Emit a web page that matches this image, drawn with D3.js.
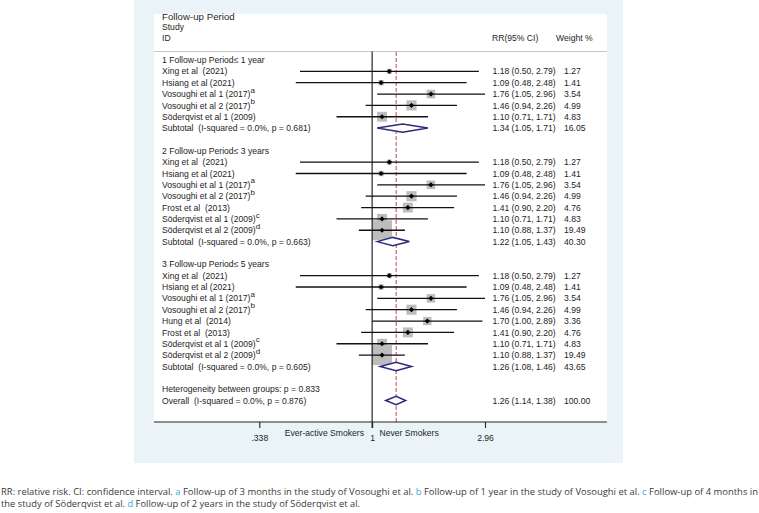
<!DOCTYPE html>
<html><head><meta charset="utf-8">
<script src="https://cdn.jsdelivr.net/npm/d3@7"></script>
<style>
body{margin:0;background:#fff}
svg{display:block}
text{white-space:pre}
</style>
</head><body>
<svg id="chart" width="759" height="513"></svg>
<script>
// ---------- data ----------
const groupTitles = ["1 Follow-up Period\u2264 1 year", "2 Follow-up Period\u2264 3 years", "3 Follow-up Period\u2264 5 years"];
const studyGroup = [0,0,0,0,0, 1,1,1,1,1,1,1, 2,2,2,2,2,2,2,2];
const studyName = [
  "Xing et al  (2021)", "Hsiang et al (2021)", "Vosoughi et al 1 (2017)", "Vosoughi et al 2 (2017)", "S\u00f6derqvist et al 1 (2009)",
  "Xing et al  (2021)", "Hsiang et al (2021)", "Vosoughi et al 1 (2017)", "Vosoughi et al 2 (2017)", "Frost et al  (2013)", "S\u00f6derqvist et al 1 (2009)", "S\u00f6derqvist et al 2 (2009)",
  "Xing et al  (2021)", "Hsiang et al (2021)", "Vosoughi et al 1 (2017)", "Vosoughi et al 2 (2017)", "Hung et al  (2014)", "Frost et al  (2013)", "S\u00f6derqvist et al 1 (2009)", "S\u00f6derqvist et al 2 (2009)"
];
const studySup = ["","","a","b","", "","","a","b","","c","d", "","","a","b","","","c","d"];
const studyRR    = [1.18,1.09,1.76,1.46,1.10, 1.18,1.09,1.76,1.46,1.41,1.10,1.10, 1.18,1.09,1.76,1.46,1.70,1.41,1.10,1.10];
const studyLo    = [0.50,0.48,1.05,0.94,0.71, 0.50,0.48,1.05,0.94,0.90,0.71,0.88, 0.50,0.48,1.05,0.94,1.00,0.90,0.71,0.88];
const studyHi    = [2.79,2.48,2.96,2.26,1.71, 2.79,2.48,2.96,2.26,2.20,1.71,1.37, 2.79,2.48,2.96,2.26,2.89,2.20,1.71,1.37];
const studyWeight= [1.27,1.41,3.54,4.99,4.83, 1.27,1.41,3.54,4.99,4.76,4.83,19.49, 1.27,1.41,3.54,4.99,3.36,4.76,4.83,19.49];
const subtotalP  = ["0.681","0.663","0.605"];
const subRR      = [1.34,1.22,1.26];
const subLo      = [1.05,1.05,1.08];
const subHi      = [1.71,1.43,1.46];
const subWeight  = ["16.05","40.30","43.65"];
const heterogeneityP = "0.833";
const overallP = "0.876";
const overallRR = 1.26, overallLo = 1.14, overallHi = 1.38, overallWeight = "100.00";
const tickValues = [0.338, 1, 2.96];
const tickLabels = [".338", "1", "2.96"];
const leftLabel = "Ever-active Smokers", rightLabel = "Never Smokers";

// ---------- layout ----------
const svg = d3.select("#chart");
const FONT = "'Liberation Sans', Arial, sans-serif";
const fs = 8.6;
const ink = "#1e1e1e";
const rowY = i => 60 + i * 11.35;
const x = d3.scaleLog().domain([0.338, 2.96]).range([259.3, 485]);
const fmt = d3.format(".2f");

svg.append("rect").attr("x",134).attr("y",0).attr("width",489).attr("height",463).attr("fill","#eaf4f8");
svg.append("rect").attr("x",154).attr("y",14).attr("width",453).attr("height",408).attr("fill","#ffffff");

// header
const txt = (xx, yy, s, opt={}) => svg.append("text").attr("x",xx).attr("y",yy)
  .attr("font-family",FONT).attr("font-size",opt.size||fs).attr("fill",ink)
  .attr("text-anchor",opt.anchor||"start").text(s);
txt(162, 20.4, "Follow-up Period", {size:9.7});
txt(162, 29.6, "Study");
txt(162, 40.8, "ID");
txt(492, 40.8, "RR(95% CI)");
txt(556, 40.8, "Weight %");
svg.append("line").attr("x1",154).attr("x2",607).attr("y1",51.5).attr("y2",51.5).attr("stroke","#c4c4c4").attr("stroke-width",1);

// build rows
const rows = [];
let r = 0;
groupTitles.forEach((g, gi) => {
  rows.push({type:"group", label:g, i:r++});
  studyName.forEach((n, si) => {
    if (studyGroup[si] === gi) rows.push({type:"study", label:n, sup:studySup[si], rr:studyRR[si], lo:studyLo[si], hi:studyHi[si], w:studyWeight[si], i:r++});
  });
  rows.push({type:"sub", label:"Subtotal  (I-squared = 0.0%, p = " + subtotalP[gi] + ")", rr:subRR[gi], lo:subLo[gi], hi:subHi[gi], w:subWeight[gi], i:r++});
  r++;
});
rows.push({type:"het", label:"Heterogeneity between groups: p = " + heterogeneityP, i:r++});
rows.push({type:"overall", label:"Overall  (I-squared = 0.0%, p = " + overallP + ")", rr:overallRR, lo:overallLo, hi:overallHi, w:overallWeight, i:r++});

// boxes first (behind lines)
const boxK = 4.53;
const studies = rows.filter(d => d.type === "study");
svg.append("g").selectAll("rect").data(studies).join("rect")
  .attr("x", d => x(d.rr) - boxK*Math.sqrt(d.w)/2)
  .attr("y", d => rowY(d.i) - boxK*Math.sqrt(d.w)/2)
  .attr("width", d => boxK*Math.sqrt(d.w))
  .attr("height", d => boxK*Math.sqrt(d.w))
  .attr("fill", "#bdbdbd");

// null line
svg.append("line").attr("x1",x(1)).attr("x2",x(1)).attr("y1",51.5).attr("y2",428).attr("stroke","#111").attr("stroke-width",1.1);
// overall dashed line
svg.append("line").attr("x1",x(overallRR)).attr("x2",x(overallRR)).attr("y1",52).attr("y2",422)
  .attr("stroke","#c8405a").attr("stroke-width",1).attr("stroke-dasharray","4,2");

// CI lines
svg.append("g").selectAll("line").data(studies).join("line")
  .attr("x1", d => x(d.lo)).attr("x2", d => x(d.hi))
  .attr("y1", d => rowY(d.i)).attr("y2", d => rowY(d.i))
  .attr("stroke", "#111").attr("stroke-width", 1.3);
// point markers
svg.append("g").selectAll("path").data(studies).join("path")
  .attr("transform", d => `translate(${x(d.rr)},${rowY(d.i)})`)
  .attr("d", "M0,-2.6L2.6,0L0,2.6L-2.6,0Z").attr("fill", "#000");

// diamonds
const dia = rows.filter(d => d.type === "sub" || d.type === "overall");
svg.append("g").selectAll("path").data(dia).join("path")
  .attr("d", d => { const y = rowY(d.i), h = 4.2;
    return `M${x(d.lo)},${y}L${x(d.rr)},${y-h}L${x(d.hi)},${y}L${x(d.rr)},${y+h}Z`; })
  .attr("fill", "#fff").attr("stroke", "#2b2b80").attr("stroke-width", 1.5);

// labels
rows.forEach(d => {
  const y = rowY(d.i) + 3.1;
  const t = txt(162, y, d.label);
  if (d.sup) t.append("tspan").attr("dy", -4.5).attr("font-size", 8).text(d.sup);
  if (d.rr !== undefined) {
    txt(492.5, y, `${fmt(d.rr)} (${fmt(d.lo)}, ${fmt(d.hi)})`);
    txt(564, y, typeof d.w === "number" ? fmt(d.w) : d.w);
  }
});

// axis
const axisG = svg.append("g").attr("transform", "translate(0,422)");
axisG.append("line").attr("x1",154).attr("x2",607).attr("y1",0).attr("y2",0).attr("stroke","#222").attr("stroke-width",1.2);
const axis = d3.axisBottom(x).tickValues(tickValues).tickFormat((d,i) => tickLabels[i]).tickSize(6).tickSizeOuter(0);
const ag = axisG.append("g").call(axis);
ag.select(".domain").remove();
ag.selectAll(".tick line").attr("stroke","#222").attr("stroke-width",1.1);
ag.selectAll(".tick text").attr("font-family",FONT).attr("font-size",fs).attr("fill",ink).attr("dy",0).attr("y",18.5);
txt(364, 436, leftLabel, {anchor:"end"});
txt(379.5, 436, rightLabel);

// caption
const cap = svg.append("g").attr("font-family","'Open Sans', 'Noto Sans', sans-serif").attr("font-size",9).attr("fill","#3a3a3a");
const blue = "#3aa7dc";
const l1 = cap.append("text").attr("x",1).attr("y",495).attr("textLength",757).attr("lengthAdjust","spacingAndGlyphs");
[["RR: relative risk. CI: confidence interval. ",null],["a",blue],[" Follow-up of 3 months in the study of Vosoughi et al. ",null],["b",blue],[" Follow-up of 1 year in the study of Vosoughi et al. ",null],["c",blue],[" Follow-up of 4 months in",null]]
  .forEach(([s,c]) => { const ts = l1.append("tspan").text(s); if (c) ts.attr("fill", c); });
const l2 = cap.append("text").attr("x",1).attr("y",507).attr("textLength",359).attr("lengthAdjust","spacingAndGlyphs");
[["the study of S\u00f6derqvist et al. ",null],["d",blue],[" Follow-up of 2 years in the study of S\u00f6derqvist et al.",null]]
  .forEach(([s,c]) => { const ts = l2.append("tspan").text(s); if (c) ts.attr("fill", c); });
</script>
</body></html>
